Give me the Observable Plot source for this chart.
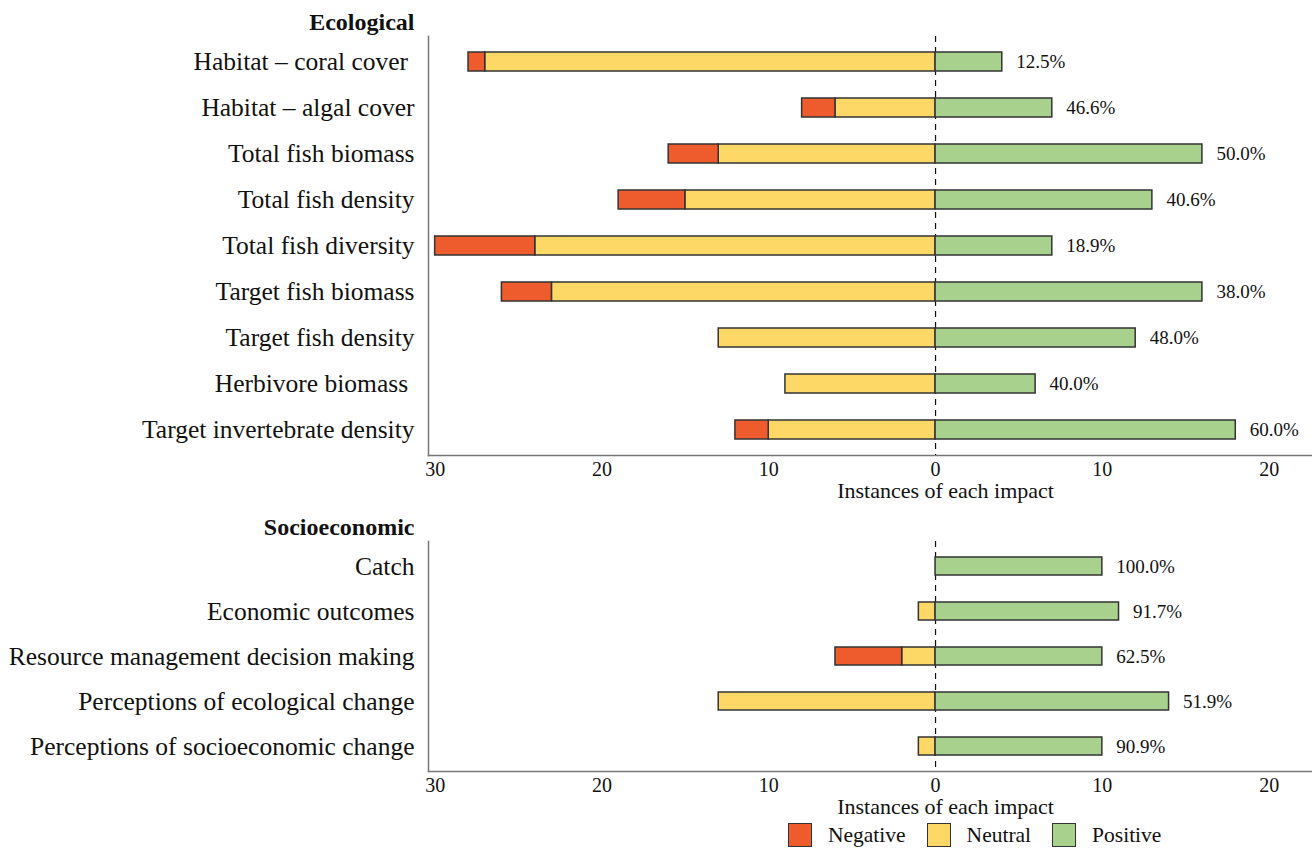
<!DOCTYPE html>
<html><head><meta charset="utf-8">
<script src="https://cdn.jsdelivr.net/npm/d3@7"></script>
<script src="https://cdn.jsdelivr.net/npm/@observablehq/plot@0.6"></script>
<style>
body{margin:0;background:#fff;font-family:"Liberation Serif","Times New Roman",serif;color:#111;}
#wrap{width:1312px;}
#wrap svg{display:block;}
.legend{display:flex;align-items:center;height:28px;margin-top:6px;padding-left:788px;font-size:21.5px;}
.legend .sw{width:24px;height:24px;border:1.5px solid #333;box-sizing:border-box;margin-right:16px;}
.legend .lab{margin-right:21px;}
</style></head><body><div id="wrap"></div>
<script>
// ---- data ----
const ecoCategories = ["Habitat \u2013 coral cover\u00a0", "Habitat \u2013 algal cover", "Total fish biomass", "Total fish density", "Total fish diversity", "Target fish biomass", "Target fish density", "Herbivore biomass\u00a0", "Target invertebrate density"];
const ecoNegative = [1, 2, 3, 4, 6, 3, 0, 0, 2];
const ecoNeutral  = [27, 6, 13, 15, 24, 23, 13, 9, 10];
const ecoPositive = [4, 7, 16, 13, 7, 16, 12, 6, 18];
const ecoPercent  = ["12.5%", "46.6%", "50.0%", "40.6%", "18.9%", "38.0%", "48.0%", "40.0%", "60.0%"];

const socCategories = ["Catch", "Economic outcomes", "Resource management decision making", "Perceptions of ecological change", "Perceptions of socioeconomic change"];
const socNegative = [0, 0, 4, 0, 0];
const socNeutral  = [0, 1, 2, 13, 1];
const socPositive = [10, 11, 10, 14, 10];
const socPercent  = ["100.0%", "91.7%", "62.5%", "51.9%", "90.9%"];

const impactTypes  = ["Negative", "Neutral", "Positive"];
const impactColors = ["#EE5B2C", "#FDD867", "#A9D18E"];
const xTicks = [-30, -20, -10, 0, 10, 20];
const axisTitle = "Instances of each impact";

// ---- chart ----
function panel(title, cats, neg, neu, pos, pct, height, marginTop, marginBottom) {
  const rows = [];
  cats.forEach((c, i) => {
    if (neu[i]) rows.push({cat: c, type: "Neutral", value: -neu[i]});
    if (neg[i]) rows.push({cat: c, type: "Negative", value: -neg[i]});
    if (pos[i]) rows.push({cat: c, type: "Positive", value: pos[i]});
  });
  const labels = cats.map((c, i) => ({cat: c, x: pos[i], pct: pct[i]}));
  return Plot.plot({
    width: 1312, height, marginLeft: 428, marginRight: 0, marginTop, marginBottom,
    style: {fontFamily: "'Liberation Serif','Times New Roman',serif", color: "#111", background: "#fff", overflow: "visible"},
    x: {domain: [-30.4, 22.6], label: null},
    y: {domain: cats, paddingInner: 0.59, paddingOuter: 0.34, label: null},
    color: {domain: impactTypes, range: impactColors},
    marks: [
      Plot.frame({anchor: "left", stroke: "#777", strokeWidth: 1.5}),
      Plot.frame({anchor: "bottom", stroke: "#777", strokeWidth: 1.5}),
      Plot.ruleX([0], {stroke: "#111", strokeDasharray: "6,5", strokeWidth: 1.2}),
      Plot.barX(rows, Plot.stackX({x: "value", y: "cat", fill: "type", stroke: "#333", strokeWidth: 1.5, order: null})),
      Plot.text(labels, {x: "x", y: "cat", text: "pct", dx: 14, textAnchor: "start", fontSize: 19, fill: "#111"}),
      Plot.axisX({ticks: xTicks, tickFormat: d => Math.abs(d), tickSize: 0, tickPadding: 6, fontSize: 20, label: null}),
      Plot.axisY({tickSize: 0, tickPadding: 14, fontSize: 25.5, label: null}),
      Plot.text([title], {frameAnchor: "top-left", dx: -14, dy: -14, textAnchor: "end", lineAnchor: "middle", fontWeight: "bold", fontSize: 24, fill: "#111"}),
      Plot.text([axisTitle], {x: () => 0, frameAnchor: "bottom", dx: 10, dy: 35, lineAnchor: "middle", fontSize: 22, fill: "#111"})
    ]
  });
}

const wrap = document.getElementById("wrap");
wrap.append(panel("Ecological", ecoCategories, ecoNegative, ecoNeutral, ecoPositive, ecoPercent, 500, 36, 45));
wrap.append(panel("Socioeconomic", socCategories, socNegative, socNeutral, socPositive, socPercent, 315, 41, 44));

const legend = document.createElement("div");
legend.className = "legend";
impactTypes.forEach((t, i) => {
  const sw = document.createElement("div");
  sw.className = "sw"; sw.style.background = impactColors[i];
  const lab = document.createElement("div");
  lab.className = "lab"; lab.textContent = t;
  legend.append(sw, lab);
});
wrap.append(legend);
</script></body></html>
